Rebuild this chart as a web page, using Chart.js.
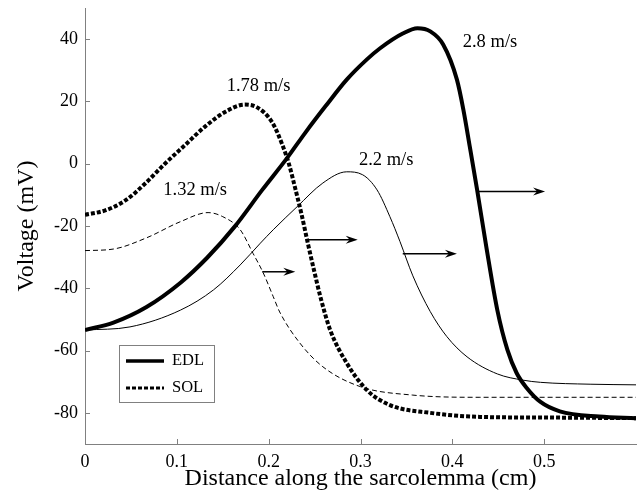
<!DOCTYPE html>
<html>
<head>
<meta charset="utf-8">
<script src="https://cdn.jsdelivr.net/npm/chart.js@4"></script>
<style>
  body { margin: 0; background: #fff; }
  canvas { display: block; }
</style>
</head>
<body>
<canvas id="chart" width="641" height="502"></canvas>
<script>
// EDL, 2.8 m/s (thick solid)
const edlFastX = [0, 0.031, 0.067, 0.104, 0.133, 0.163, 0.193, 0.22, 0.24, 0.262, 0.285, 0.307, 0.321, 0.346, 0.362, 0.376, 0.39, 0.405, 0.412, 0.419, 0.427, 0.437, 0.449, 0.46, 0.47, 0.481, 0.496, 0.517, 0.56, 0.6];
const edlFastY = [-53.4, -51, -46, -38.2, -30.2, -20.2, -8.4, 1.8, 10, 18.5, 27, 33.5, 37, 41.8, 43.5, 42.5, 38.3, 27, 17.4, 5.5, -8.4, -26.7, -47, -59.8, -67.2, -72, -76.5, -79.5, -81.2, -81.7];
// EDL, 2.2 m/s (thin solid)
const edlSlowX = [0, 0.049, 0.104, 0.14, 0.169, 0.191, 0.205, 0.231, 0.259, 0.285, 0.302, 0.318, 0.332, 0.343, 0.357, 0.376, 0.394, 0.416, 0.449, 0.477, 0.496, 0.55, 0.6];
const edlSlowY = [-53.4, -52.4, -47, -40.5, -32.5, -25.5, -21.2, -13.8, -6.2, -2.6, -3.5, -8.4, -17, -25, -36, -47.5, -55.5, -62, -67.5, -69.5, -70.2, -70.8, -71];
// SOL, 1.78 m/s (thick dotted)
const solFastX = [0, 0.022, 0.044, 0.065, 0.087, 0.109, 0.131, 0.153, 0.174, 0.188, 0.204, 0.215, 0.222, 0.229, 0.236, 0.243, 0.25, 0.257, 0.267, 0.285, 0.307, 0.332, 0.376, 0.43, 0.5, 0.6];
const solFastY = [-16.4, -15, -11.8, -6.5, 0, 6, 12, 16.7, 19, 18, 13.2, 6, 0, -8, -16.5, -26, -35, -43.5, -53.4, -64, -72.7, -77.5, -80, -81.3, -81.5, -81.7];
// SOL, 1.32 m/s (thin dashed)
const solSlowX = [0, 0.031, 0.067, 0.104, 0.134, 0.15, 0.169, 0.183, 0.194, 0.205, 0.212, 0.234, 0.259, 0.3, 0.357, 0.43, 0.6];
const solSlowY = [-27.9, -27.4, -23.8, -18.6, -15.7, -17, -21.2, -28.8, -35, -42.7, -47.6, -57.6, -65.2, -71.6, -74.3, -75, -75];

const xTicks = [0, 0.1, 0.2, 0.3, 0.4, 0.5];
const yTicks = [-80, -60, -40, -20, 0, 20, 40];

const speedLabels = ["1.32 m/s", "1.78 m/s", "2.2 m/s", "2.8 m/s"];
const speedLabelX = [0.12, 0.189, 0.328, 0.441];
const speedLabelY = [-8.4, 25, 1.3, 39];
const arrowStartX = [0.193, 0.243, 0.346, 0.428];
const arrowEndX = [0.229, 0.297, 0.405, 0.501];
const arrowY = [-34.7, -24.4, -28.9, -8.9];

const legendNames = ["EDL", "SOL"];

const serif = "'Liberation Serif', 'Times New Roman', serif";

function pts(xs, ys) {
  return xs.map((x, i) => ({ x, y: ys[i] }));
}

function line(label, xs, ys, width, dash) {
  return {
    label,
    data: pts(xs, ys),
    borderColor: "#000",
    borderWidth: width,
    borderDash: dash,
    borderCapStyle: "butt",
    pointRadius: 0,
    fill: false,
    cubicInterpolationMode: "monotone",
  };
}

const extras = {
  id: "extras",
  afterDraw(c) {
    const { ctx, scales: { x, y }, chartArea } = c;
    ctx.save();
    // inward ticks
    ctx.strokeStyle = "#808080";
    ctx.lineWidth = 1;
    ctx.beginPath();
    xTicks.forEach((v) => {
      const px = Math.round(x.getPixelForValue(v)) + 0.5;
      ctx.moveTo(px, chartArea.bottom);
      ctx.lineTo(px, chartArea.bottom - 5);
    });
    yTicks.forEach((v) => {
      const py = Math.round(y.getPixelForValue(v)) + 0.5;
      ctx.moveTo(chartArea.left, py);
      ctx.lineTo(chartArea.left + 5, py);
    });
    ctx.stroke();

    // speed labels
    ctx.fillStyle = "#000";
    ctx.font = "18.5px " + serif;
    ctx.textAlign = "center";
    ctx.textBaseline = "middle";
    speedLabels.forEach((t, i) => {
      ctx.fillText(t, x.getPixelForValue(speedLabelX[i]), y.getPixelForValue(speedLabelY[i]));
    });

    // arrows
    ctx.strokeStyle = "#000";
    ctx.lineWidth = 1.5;
    arrowStartX.forEach((sx, i) => {
      const x0 = x.getPixelForValue(sx);
      const x1 = x.getPixelForValue(arrowEndX[i]);
      const py = y.getPixelForValue(arrowY[i]);
      ctx.beginPath();
      ctx.moveTo(x0, py);
      ctx.lineTo(x1 - 6, py);
      ctx.stroke();
      ctx.beginPath();
      ctx.moveTo(x1, py);
      ctx.lineTo(x1 - 12, py - 4);
      ctx.lineTo(x1 - 8, py);
      ctx.lineTo(x1 - 12, py + 4);
      ctx.closePath();
      ctx.fill();
    });

    // legend box
    const lx = 119.5, ly = 345.5, lw = 95, lh = 57;
    ctx.fillStyle = "#fff";
    ctx.fillRect(lx, ly, lw, lh);
    ctx.strokeStyle = "#808080";
    ctx.lineWidth = 1;
    ctx.strokeRect(lx, ly, lw, lh);
    ctx.strokeStyle = "#000";
    ctx.lineWidth = 3.5;
    ctx.beginPath();
    ctx.moveTo(126, 361);
    ctx.lineTo(164, 361);
    ctx.stroke();
    ctx.setLineDash([4, 2]);
    ctx.lineWidth = 3;
    ctx.beginPath();
    ctx.moveTo(126, 388);
    ctx.lineTo(164, 388);
    ctx.stroke();
    ctx.setLineDash([]);
    ctx.fillStyle = "#000";
    ctx.font = "16.5px " + serif;
    ctx.textAlign = "left";
    ctx.textBaseline = "middle";
    ctx.fillText(legendNames[0], 172, 361);
    ctx.fillText(legendNames[1], 172, 388);
    ctx.restore();
  },
};

new Chart(document.getElementById("chart"), {
  type: "line",
  data: {
    datasets: [
      line("EDL 2.8 m/s", edlFastX, edlFastY, 4, []),
      line("EDL 2.2 m/s", edlSlowX, edlSlowY, 1, []),
      line("SOL 1.78 m/s", solFastX, solFastY, 4, [4, 2]),
      line("SOL 1.32 m/s", solSlowX, solSlowY, 1, [5, 3]),
    ],
  },
  options: {
    responsive: false,
    animation: false,
    devicePixelRatio: 1,
    layout: { padding: { top: 8, right: 5, left: 0, bottom: 0 } },
    plugins: { legend: { display: false }, tooltip: { enabled: false } },
    scales: {
      x: {
        type: "linear",
        min: 0,
        max: 0.6,
        grid: { display: false, drawTicks: false },
        border: { display: true, color: "#808080", width: 1 },
        afterBuildTicks: (s) => { s.ticks = xTicks.map((v) => ({ value: v })); },
        afterFit: (s) => { s.height = 58; s.paddingLeft = 0; s.paddingRight = 0; },
        ticks: {
          color: "#000",
          font: { family: serif, size: 18 },
          padding: 7,
          maxRotation: 0,
          callback: (v) => String(v),
        },
        title: {
          display: true,
          text: "Distance along the sarcolemma (cm)",
          color: "#000",
          font: { family: serif, size: 24 },
          padding: { top: 0, bottom: 9 },
        },
      },
      y: {
        min: -90,
        max: 50,
        grid: { display: false, drawTicks: false },
        border: { display: true, color: "#808080", width: 1 },
        afterBuildTicks: (s) => { s.ticks = yTicks.map((v) => ({ value: v })); },
        afterFit: (s) => { s.width = 85; s.paddingTop = 0; s.paddingBottom = 0; },
        ticks: {
          color: "#000",
          font: { family: serif, size: 18 },
          padding: 7,
          callback: (v) => String(v),
        },
        title: {
          display: true,
          text: "Voltage (mV)",
          color: "#000",
          font: { family: serif, size: 24 },
          padding: { top: 12, bottom: 0 },
        },
      },
    },
  },
  plugins: [extras],
});
</script>
</body>
</html>
